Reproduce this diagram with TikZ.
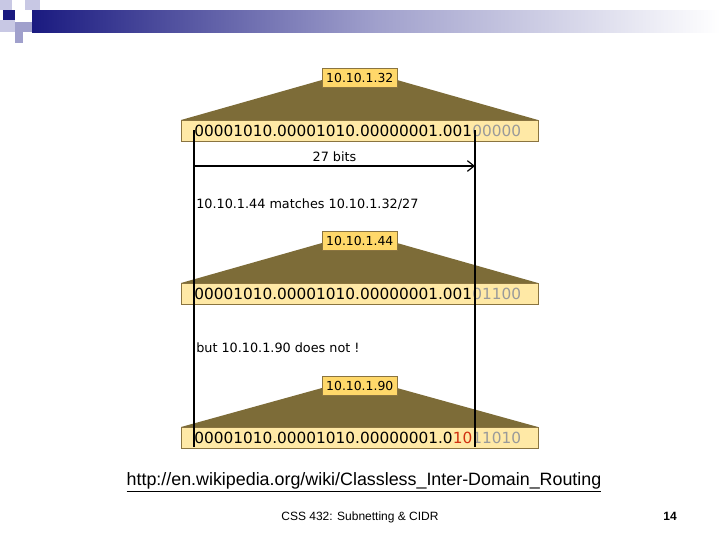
\documentclass[tikz,border=0pt]{standalone}
\usepackage{fontspec}
\setmainfont{DejaVu Sans}
\newfontfamily\arialf{Liberation Sans}
\usetikzlibrary{arrows.meta}
\definecolor{olive}{HTML}{7D6C38}
\definecolor{binfill}{HTML}{FFE9A6}
\definecolor{labfill}{HTML}{FFD86A}
\definecolor{edge}{HTML}{8A7440}
\definecolor{greybit}{HTML}{9A9A9A}
\definecolor{redbit}{HTML}{D03010}
\definecolor{navy}{HTML}{1A1A80}
\definecolor{lightsq}{HTML}{A0A0CC}
\definecolor{lightsq2}{HTML}{C8C8E4}
\tikzset{
  binbox/.style={draw=edge,fill=binfill,minimum width=267.75pt,minimum height=15.75pt,inner sep=0,anchor=north west},
  bintext/.style={anchor=west,inner sep=0,font=\fontsize{11.5}{12}\selectfont},
  labbox/.style={draw=edge,fill=labfill,minimum width=56.25pt,minimum height=14.25pt,inner sep=0,anchor=north west,font=\fontsize{9.3}{10}\selectfont},
  small/.style={font=\fontsize{9.6}{11}\selectfont,inner sep=0}
}
\begin{document}
\begin{tikzpicture}[x=0.75pt,y=-0.75pt]
\useasboundingbox (0,0) rectangle (720,540);
% header
\shade[left color=navy,right color=white,middle color=lightsq] (32,10) rectangle (720,32);
\fill[lightsq2] (25,0) rectangle (40,10);
\fill[lightsq2] (0,0) rectangle (12,10);
\fill[navy] (3,10) rectangle (15,20);
\fill[lightsq] (15,22) rectangle (32,32);
\fill[lightsq2] (0,20) rectangle (15,32);
\fill[lightsq] (15,32) rectangle (23,43);
% trapezoids
\foreach \ty/\by in {80/120, 243/283, 388/427}{
  \fill[olive] (322,\ty) -- (397,\ty) -- (538,\by) -- (181,\by) -- cycle;
}
\node[labbox] (l1) at (322,68) {10.10.1.32};
\node[labbox] (l2) at (322,231) {10.10.1.44};
\node[labbox] (l3) at (322,376) {10.10.1.90};
\node[binbox] (b1) at (181,120) {};
\node[binbox] (b2) at (181,283) {};
\node[binbox] (b3) at (181,427) {};
\node[bintext] (x1) at (194,130.5) {00001010.00001010.00000001.001\textcolor{greybit}{00000}};
\node[bintext] (x2) at (194,293.5) {00001010.00001010.00000001.001\textcolor{greybit}{01100}};
\node[bintext] (x3) at (194,437.5) {00001010.00001010.00000001.0\textcolor{redbit}{10}\textcolor{greybit}{11010}};
\coordinate (t1) at (194,130);
\coordinate (t2) at (475,130);
\coordinate (e1) at (194,447);
\coordinate (e2) at (475,447);
\draw[line width=0.9pt] (t1) -- (e1);
\draw[line width=0.9pt] (t2) -- (e2);
\coordinate (a1) at (194,166);
\coordinate (a2) at (475,166);
\draw[line width=0.9pt,-{Straight Barb[length=5pt,width=8pt]}] (a1) -- (a2) node[midway,above=2.5pt,small] (bits) {27 bits};
\node[small,anchor=west] (m1) at (196,204) {10.10.1.44 matches 10.10.1.32/27};
\node[small,anchor=west] (m2) at (196,348) {but 10.10.1.90 does not !};
% footer
\node[font=\arialf\fontsize{13.4}{15}\selectfont,inner sep=0] (url) at (364,482) {\underline{http://en.wikipedia.org/wiki/Classless\_Inter-Domain\_Routing}};
\node[font=\arialf\fontsize{9}{10}\selectfont,inner sep=0] (foot) at (360,517) {CSS 432: Subnetting \& CIDR};
\node[font=\arialf\bfseries\fontsize{9}{10}\selectfont,inner sep=0] (pg) at (670,516) {14};
\end{tikzpicture}
\end{document}
